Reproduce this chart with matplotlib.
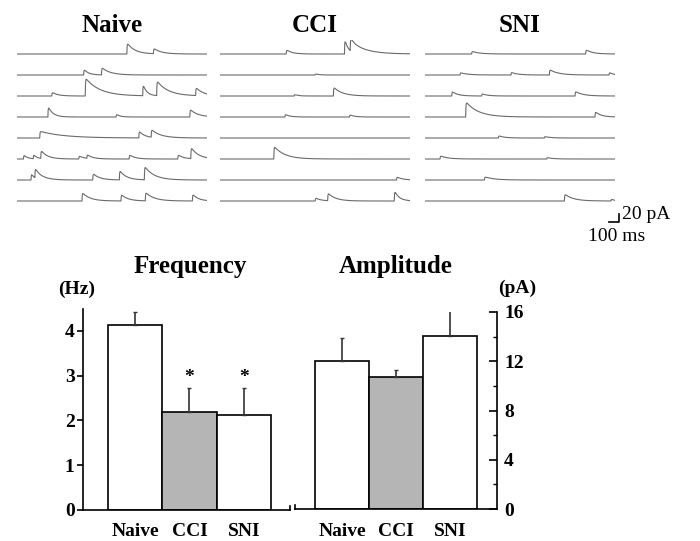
import numpy as np
import matplotlib
matplotlib.use("Agg")
import matplotlib.pyplot as plt
from matplotlib.ticker import MultipleLocator

plt.rcParams['font.family'] = ['Liberation Serif', 'DejaVu Serif']

# bar chart data
groups = ['Naive', 'CCI', 'SNI']
freq_means = [4.13, 2.19, 2.12]
freq_err = [0.29, 0.54, 0.60]
amp_means = [12.0, 10.7, 14.05]
amp_err = [1.9, 0.6, 2.35]
signif = [False, True, True]
bar_colors = ['white', '#b5b5b5', 'white']

# sample traces: events per sweep as (time ms, amplitude pA, decay ms)
naive_events = [
    [(1156, 29, 80), (1436, 14, 80)],
    [(701, 15, 50), (889, 19, 90)],
    [(366, 10, 60), (718, 46, 150), (1323, 31, 40), (1470, 38, 120), (1880, 21, 80)],
    [(325, 28, 50), (1043, 7.5, 40), (1819, 20, 80)],
    [(239, 17, 250), (1282, 18, 60), (1412, 20, 100)],
    [(68, 11, 40), (171, 11, 40), (250, 21, 70), (650, 8, 60), (735, 10, 60),
     (1180, 11, 60), (1692, 11, 60), (1829, 29, 80)],
    [(147, 17, 40), (188, 25, 80), (797, 17, 70), (1077, 25, 70), (1340, 35, 100)],
    [(684, 22, 80), (1094, 17, 70), (1350, 22, 90), (1846, 18, 60)],
]
cci_events = [
    [(697, 11, 60), (1310, 40, 40), (1370, 33, 150)],
    [(1000, 3, 40)],
    [(780, 4, 40), (1193, 23, 90)],
    [(683, 7, 50), (1363, 6, 50)],
    [],
    [(566, 33, 110)],
    [(1858, 8, 60)],
    [(1002, 8, 60), (1133, 20, 80), (1834, 27, 50)],
]
sni_events = [
    [(491, 7, 80), (1691, 11, 70)],
    [(368, 6, 80), (905, 7, 70), (1309, 14, 90), (1937, 7, 40)],
    [(281, 12, 60), (596, 6, 60), (1579, 12, 80)],
    [(428, 39, 130), (1789, 14, 60)],
    [(772, 6, 60), (1256, 4, 60)],
    [(158, 8, 80), (1281, 4, 60)],
    [(625, 8, 100)],
    [(1467, 18, 90), (1958, 5, 40)],
]
sweep_ms = 2000
row_gap = 52.5  # pA between sweeps
rise_ms = 3

W, H = 700, 541
fig = plt.figure(figsize=(W / 100, H / 100), dpi=100)


def box(l, t, r, b):
    return [l / W, 1 - b / H, (r - l) / W, (b - t) / H]


def sweep(events, t):
    y = np.zeros_like(t)
    for t0, a, tau in events:
        on = t >= t0
        dt = t[on] - t0
        y[on] += a * (1 - np.exp(-dt / rise_ms)) * np.exp(-dt / tau)
    return y


t = np.linspace(0, sweep_ms, 2001)
panels = [('Naive', naive_events, 17), ('CCI', cci_events, 220), ('SNI', sni_events, 425)]
for name, events, left in panels:
    ax = fig.add_axes(box(left, 40, left + 190, 230))
    for i, ev in enumerate(events):
        ax.plot(t, sweep(ev, t) - i * row_gap, color='#6a6a6a', lw=0.8)
    ax.set_xlim(0, sweep_ms)
    ax.set_ylim(-440, 35)
    ax.axis('off')
    fig.text((left + 95) / W, 1 - 25 / H, name, ha='center', va='center',
             fontsize=18, fontweight='bold')
    if name == 'SNI':
        # scale bar 100 ms / 20 pA
        ax.plot([1942, 2042, 2042], [-420, -420, -400], color='black', lw=1.2,
                clip_on=False)
        ax.text(2075, -402, '20 pA', fontsize=14, va='center', ha='left')
        ax.text(1716, -457, '100 ms', fontsize=14, va='center', ha='left')

x = np.arange(len(groups))
tick_font = dict(fontsize=14, fontweight='bold')

# frequency
axf = fig.add_axes(box(83, 308.6, 290, 510))
axf.bar(x, freq_means, width=1, color=bar_colors, edgecolor='black', lw=1.2)
axf.errorbar(x, freq_means, yerr=[[0] * 3, freq_err], fmt='none', ecolor='#333333',
             elinewidth=1.2, capsize=1.5)
for xi, m, e, s in zip(x, freq_means, freq_err, signif):
    if s:
        axf.text(xi, m + e + 0.05, '*', ha='center', va='bottom', **tick_font)
axf.set_xlim(-0.963, 2.853)
axf.set_ylim(0, 4.5)
axf.set_yticks([0, 1, 2, 3, 4])
axf.set_xticks(x)
axf.set_xticklabels(groups, **tick_font)
for lab in axf.get_yticklabels():
    lab.set_fontweight('bold')
    lab.set_fontsize(14)
axf.tick_params(axis='x', length=0, pad=9)
axf.tick_params(axis='y', direction='out', length=4, width=1.2, pad=2)
axf.spines[['top', 'right']].set_visible(False)
for sp in ['left', 'bottom']:
    axf.spines[sp].set_linewidth(1.2)
axf.plot([1, 1], [0, 0.02], transform=axf.transAxes, color='black', lw=1.2,
         clip_on=False)

# amplitude
axa = fig.add_axes(box(295, 312, 497, 509))
axa.bar(x, amp_means, width=1, color=bar_colors, edgecolor='black', lw=1.2)
axa.errorbar(x, amp_means, yerr=[[0] * 3, amp_err], fmt='none', ecolor='#333333',
             elinewidth=1.2, capsize=1.5)
axa.set_xlim(-0.87, 2.87)
axa.set_ylim(0, 16)
axa.yaxis.tick_right()
axa.set_yticks([0, 4, 8, 12, 16])
axa.yaxis.set_minor_locator(MultipleLocator(2))
axa.set_xticks(x)
axa.set_xticklabels(groups, **tick_font)
for lab in axa.get_yticklabels():
    lab.set_fontweight('bold')
    lab.set_fontsize(14)
axa.tick_params(axis='x', length=0, pad=10)
axa.tick_params(axis='y', which='major', direction='in', length=6, width=1.2, pad=5)
axa.tick_params(axis='y', which='minor', direction='in', length=3, width=1)
axa.spines[['top', 'left']].set_visible(False)
for sp in ['right', 'bottom']:
    axa.spines[sp].set_linewidth(1.2)
axa.plot([0, 0], [0, 0.02], transform=axa.transAxes, color='black', lw=1.2,
         clip_on=False)

fig.text(190 / W, 1 - 267 / H, 'Frequency', ha='center', va='center', fontsize=18,
         fontweight='bold')
fig.text(396 / W, 1 - 267 / H, 'Amplitude', ha='center', va='center', fontsize=18,
         fontweight='bold')
fig.text(77 / W, 1 - 289 / H, '(Hz)', ha='center', va='center', fontsize=14,
         fontweight='bold')
fig.text(517 / W, 1 - 288 / H, '(pA)', ha='center', va='center', fontsize=14,
         fontweight='bold')

fig.savefig('out.png', dpi=100)
